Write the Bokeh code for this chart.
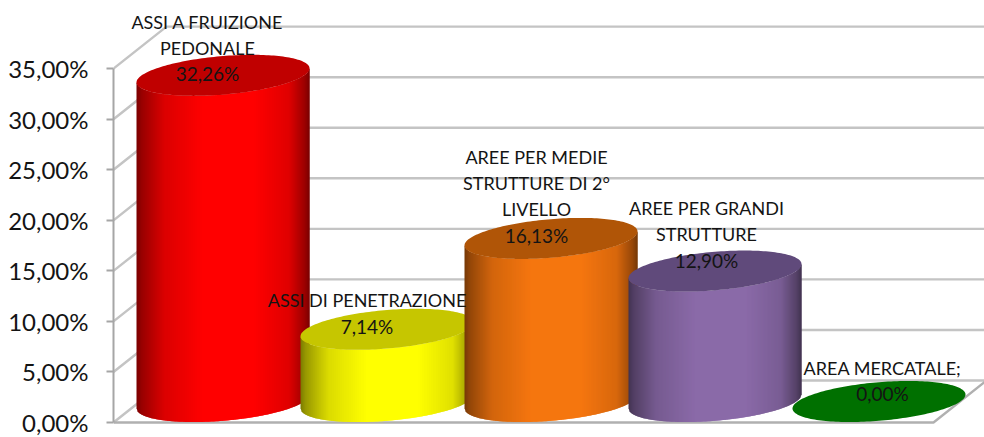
import numpy as np
from bokeh.plotting import figure
from bokeh.models import Range1d, FixedTicker
from bokeh.core.properties import value
from bokeh.embed import file_html
from bokeh.resources import INLINE

labels = [["ASSI A FRUIZIONE", "PEDONALE"], ["ASSI DI PENETRAZIONE"],
          ["AREE PER MEDIE", "STRUTTURE DI 2°", "LIVELLO"],
          ["AREE PER GRANDI", "STRUTTURE"], ["AREA MERCATALE;"]]
values = [32.26, 7.14, 16.13, 12.90, 0.00]
value_text = ["32,26%", "7,14%", "16,13%", "12,90%", "0,00%"]
ticks = [0, 5, 10, 15, 20, 25, 30, 35]
tick_text = ["0,00%", "5,00%", "10,00%", "15,00%", "20,00%", "25,00%", "30,00%", "35,00%"]
body_colors = [(255, 0, 0), (255, 255, 0), (245, 118, 15), (138, 106, 168), (0, 112, 0)]
cap_colors = ["#c00000", "#c6c600", "#b05507", "#604a7b", "#007000"]

# layout, in pixels of the reference picture
PX = 10.11
Y0 = 422.0
W, H = 984, 437
x0 = 113
to_v = lambda py: (Y0 - py) / PX
DEPTH_X, DEPTH_Y = 53, 42
RIGHT = 933
A, C, B = 86.5, 7.0, 19.3
CX0, STEP = 222.5, 164.0
BASE = 401.0
label_dx = [-15.5, -20, -14.5, -8.5, 3.5]
label_dy = [-1.5, -3, -3, -11, -8]
LINE = 26

p = figure(width=W, height=H, output_backend="svg", toolbar_location=None,
           x_range=Range1d(x0, W), y_range=Range1d(to_v(H), to_v(0)),
           min_border_left=x0, min_border_right=0, min_border_top=0, min_border_bottom=0,
           x_axis_location=None, outline_line_color=None)
p.grid.visible = False
ax = p.yaxis[0]
ax.ticker = FixedTicker(ticks=ticks)
ax.major_label_overrides = dict(zip(ticks, tick_text))
ax.bounds = (0, 35)
ax.major_label_text_font = "Lato"
ax.major_label_text_font_size = "24px"
ax.major_label_text_color = "#141414"
ax.major_label_standoff = 18
ax.axis_line_color = "#a6a6a6"
ax.axis_line_width = 2
ax.major_tick_line_color = "#a6a6a6"
ax.major_tick_line_width = 2
ax.major_tick_out = 7
ax.major_tick_in = 0
ax.minor_tick_line_color = None

gx, gy = [], []
for t in ticks:
    gx.append([x0, x0 + DEPTH_X, 1000])
    gy.append([t, t + DEPTH_Y / PX, t + DEPTH_Y / PX])
p.multi_line(gx, gy, line_color="#c4c4c4", line_width=2.4)
p.multi_line([[x0, RIGHT, RIGHT + DEPTH_X]], [[0, 0, DEPTH_Y / PX]], line_color="#b0b0b0", line_width=2.4)

profile_u = [0, 0.03, 0.16, 0.38, 0.68, 0.88, 0.97, 1]
profile_f = [0.48, 0.6, 0.86, 1, 1, 0.88, 0.62, 0.48]
t = np.linspace(0, 2 * np.pi, 181)
for i, v in enumerate(values):
    cx = CX0 + i * STEP
    base_v = to_v(BASE)
    xs, ys, cols = [], [], []
    if v > 0:
        edges = np.arange(np.floor(cx - A), np.ceil(cx + A))
        for xa in edges:
            xb = xa + 2
            us = np.clip((np.array([xa, xb]) - cx) / A, -1, 1)
            low = (C * us - B * np.sqrt(1 - us * us)) / PX
            xl, xr = cx + A * us
            xs.append([xl, xr, xr, xl])
            ys.append([base_v + low[0], base_v + low[1], base_v + v + low[1], base_v + v + low[0]])
            f = float(np.interp((xa + 0.5 - (cx - A)) / (2 * A), profile_u, profile_f))
            r, g, b = [int(c * f) for c in body_colors[i]]
            cols.append(f"#{r:02x}{g:02x}{b:02x}")
        p.patches(xs, ys, fill_color=cols, line_color=None)
    p.patch(cx + A * np.cos(t), base_v + v + (C * np.cos(t) + B * np.sin(t)) / PX,
            fill_color=cap_colors[i], line_color=None)

for i, v in enumerate(values):
    cx = CX0 + i * STEP + label_dx[i]
    vy = v + to_v(BASE) - label_dy[i] / PX
    lines = labels[i]
    n = len(lines)
    p.text([cx] * n, [vy + (n - k) * LINE / PX for k in range(n)], text=lines,
           text_align="center", text_baseline="middle", text_color="#141414",
           text_font=value("Lato"), text_font_size="18px")
    p.text([cx], [vy], text=[value_text[i]],
           text_align="center", text_baseline="middle", text_color="#141414",
           text_font=value("Lato"), text_font_size="19px")

open("out.html", "w").write(file_html(p, INLINE))
